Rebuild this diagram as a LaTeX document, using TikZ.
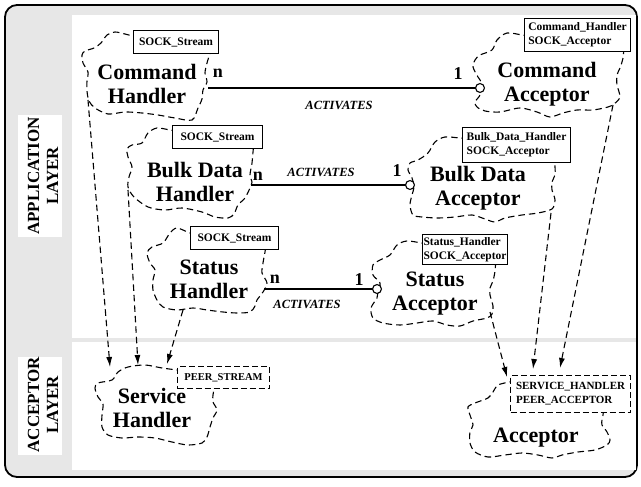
\documentclass[tikz,border=0pt]{standalone}
\usepackage{fontspec}
\setmainfont{Liberation Serif}
\usetikzlibrary{arrows.meta}
\definecolor{panelgray}{gray}{0.905}

\begin{document}
\begin{tikzpicture}[x=1pt,y=-1pt,
  cloudline/.style={line width=1.1pt, dash pattern=on 6.5pt off 4pt},
  classname/.style={font=\fontsize{22}{24}\selectfont\bfseries, align=center, inner sep=0pt, anchor=north},
  tagbox/.style={draw, fill=white, line width=1.1pt, font=\fontsize{11.5}{14}\selectfont\bfseries,
                 align=left, inner sep=0pt, anchor=north west},
  dashtag/.style={tagbox, dash pattern=on 6pt off 3pt},
  mult/.style={font=\fontsize{18}{18}\selectfont\bfseries, inner sep=0pt, anchor=base},
  relname/.style={font=\fontsize{12.5}{14}\selectfont\bfseries\itshape, inner sep=0pt, anchor=base},
  activates/.style={line width=1.1pt, -{Circle[fill=white, length=10pt, line width=1.1pt]}},
  inherits/.style={line width=1.1pt, dash pattern=on 6.5pt off 4pt, -{Latex[length=10pt, width=6pt]}},
  layername/.style={font=\fontsize{17}{19}\selectfont\bfseries, align=center, rotate=90, inner sep=0pt}
]
\useasboundingbox (0,0) rectangle (641,487);

% frame and the two layer panels
\draw[line width=1.8pt, rounded corners=12pt, fill=panelgray] (5,5) rectangle (637,477);
\fill[white] (72,15) rectangle (636,338);
\fill[white] (72,342) rectangle (636,470);

% layer captions
\fill[white] (18,115) rectangle (62,237);
\fill[white] (18,357) rectangle (62,455);
\node[layername] (applayer) at (43,176) {APPLICATION\\LAYER};
\node[layername] (acclayer) at (43,405) {ACCEPTOR\\LAYER};

% class clouds
\draw[cloudline] plot[smooth] coordinates {(140,36) (133,36) (125,34) (115,32) (107,35) (101,43) (94,48) (85,51)
  (82,55) (83,63) (88,72) (87,81) (87,91) (89,101) (95,108) (108,114) (125,112) (142,113) (158,115) (175,118)
  (192,120) (198,108) (202,99) (203,90) (207,82) (205,73) (207,63) (210,53) (211,47)};
\draw[cloudline] plot[smooth] coordinates {(530,36) (522,35) (507,33) (497,40) (492,50) (480,55) (475,60) (473,67)
  (478,77) (482,84) (480,95) (475,102) (477,107) (485,111) (500,112) (520,108) (537,112) (550,117) (563,113)
  (577,110) (593,110) (608,107) (614,104) (620,97) (617,85) (617,75) (620,68) (623,58) (624,46)};
\draw[cloudline] plot[smooth] coordinates {(178,131) (170,130) (157,128) (148,133) (142,143) (132,145) (127,149)
  (128,157) (132,167) (129,177) (128,187) (134,197) (148,207) (165,210) (182,208) (202,212) (215,217) (228,218)
  (234,214) (238,205) (245,198) (250,188) (252,182) (250,175) (252,163) (253,152) (254,143)};
\draw[cloudline] plot[smooth] coordinates {(468,138) (460,138) (445,137) (435,142) (428,153) (418,160) (410,163)
  (408,170) (412,178) (414,187) (412,195) (410,205) (413,215) (422,217) (438,218) (455,217) (472,215) (485,219)
  (495,222) (505,218) (522,215) (538,213) (552,209) (555,200) (552,190) (552,182) (555,175) (555,167) (554,156)};
\draw[cloudline] plot[smooth] coordinates {(196,233) (190,233) (177,228) (170,233) (163,243) (152,247) (147,253)
  (150,263) (155,270) (153,280) (153,290) (157,300) (163,307) (177,310) (193,308) (207,310) (223,312) (237,313)
  (250,312) (255,306) (257,300) (263,292) (267,283) (262,273) (263,263) (265,252) (266,244)};
\draw[cloudline] plot[smooth] coordinates {(428,243) (422,243) (407,241) (397,245) (390,255) (380,260) (373,265)
  (373,275) (380,283) (378,292) (377,298) (371,308) (373,318) (383,323) (400,325) (417,323) (433,321) (447,325)
  (460,326) (473,321) (487,318) (492,314) (493,306) (490,295) (490,288) (493,281) (495,271) (496,258)};
\draw[cloudline] plot[smooth] coordinates {(183,371) (177,370) (162,368) (145,365) (128,367) (118,372) (112,380)
  (98,383) (95,388) (98,397) (103,404) (102,415) (102,427) (108,435) (122,438) (138,437) (155,438) (172,442)
  (188,445) (202,443) (207,437) (210,427) (213,418) (217,410) (213,402) (213,395) (215,384)};
\draw[cloudline] plot[smooth] coordinates {(516,382) (510,382) (498,385) (493,392) (488,398) (475,403) (468,407)
  (470,415) (473,425) (470,432) (470,443) (475,452) (488,457) (505,455) (522,453) (538,455) (552,458) (562,455)
  (578,452) (595,450) (607,445) (610,440) (607,432) (602,425) (602,420) (603,415) (604,406)};

% template parameter boxes
\node[tagbox, minimum width=85pt, minimum height=23pt] (cmdHbox) at (133,30) {SOCK\_Stream};
\node[tagbox, minimum width=106pt, minimum height=33pt] (cmdAbox) at (524,18) {Command\_Handler\\SOCK\_Acceptor};
\node[tagbox, minimum width=90pt, minimum height=23pt] (bulkHbox) at (172,125) {SOCK\_Stream};
\node[tagbox, minimum width=108pt, minimum height=35pt] (bulkAbox) at (462,127) {Bulk\_Data\_Handler\\SOCK\_Acceptor};
\node[tagbox, minimum width=88pt, minimum height=23pt] (statHbox) at (190,226) {SOCK\_Stream};
\node[tagbox, minimum width=85pt, minimum height=30pt] (statAbox) at (422,234) {Status\_Handler\\SOCK\_Acceptor};
\node[dashtag, minimum width=92pt, minimum height=22pt, font=\fontsize{10.5}{13}\selectfont\bfseries] (svcHbox) at (177,366) {PEER\_STREAM};
\node[dashtag, minimum width=120pt, minimum height=37pt, font=\fontsize{11}{14}\selectfont\bfseries] (accbox) at (510,375) {SERVICE\_HANDLER\\PEER\_ACCEPTOR};

% class names
\node[classname] (cmdH) at (147,64) {Command\\Handler};
\node[classname] (cmdA) at (547,62) {Command\\Acceptor};
\node[classname] (bulkH) at (195,162) {Bulk Data\\Handler};
\node[classname] (bulkA) at (478,166) {Bulk Data\\Acceptor};
\node[classname] (statH) at (209,260) {Status\\Handler};
\node[classname] (statA) at (435,272) {Status\\Acceptor};
\node[classname] (svcH) at (152,388) {Service\\Handler};
\node[classname] (acc) at (536,428) {Acceptor};

% ends of the connectors on the cloud outlines
\coordinate (cmdHr) at (208,88);  \coordinate (cmdAl) at (485,88);
\coordinate (bulkHr) at (251,185); \coordinate (bulkAl) at (415,185);
\coordinate (statHr) at (264,289); \coordinate (statAl) at (382,289);
\coordinate (cmdHbot) at (88,100);  \coordinate (svcHtop1) at (110,367);
\coordinate (bulkHbot) at (128,190); \coordinate (svcHtop2) at (138,365);
\coordinate (statHbot) at (183,310); \coordinate (svcHtop3) at (167,364);
\coordinate (statAbot) at (490,312); \coordinate (acctop1) at (507,377);
\coordinate (bulkAbot) at (551,213); \coordinate (acctop2) at (533,369);
\coordinate (cmdAbot) at (613,105);  \coordinate (acctop3) at (560,368);

% activation relations
\draw[activates] (cmdHr) -- (cmdAl);
\draw[activates] (bulkHr) -- (bulkAl);
\draw[activates] (statHr) -- (statAl);
\node[mult] (cmdN) at (218,78) {n};
\node[mult] (cmdOne) at (458,80) {1};
\node[mult] (bulkN) at (258,180) {n};
\node[mult] (bulkOne) at (397,177) {1};
\node[mult] (statN) at (275,283) {n};
\node[mult] (statOne) at (359,285) {1};
\node[relname] (cmdAct) at (339,110) {ACTIVATES};
\node[relname] (bulkAct) at (321,177) {ACTIVATES};
\node[relname] (statAct) at (307,308) {ACTIVATES};

% instantiation of the acceptor layer templates
\draw[inherits] (cmdHbot) -- (svcHtop1);
\draw[inherits] (bulkHbot) -- (svcHtop2);
\draw[inherits] (statHbot) -- (svcHtop3);
\draw[inherits] (statAbot) -- (acctop1);
\draw[inherits] (bulkAbot) -- (acctop2);
\draw[inherits] (cmdAbot) -- (acctop3);
\end{tikzpicture}
\end{document}
